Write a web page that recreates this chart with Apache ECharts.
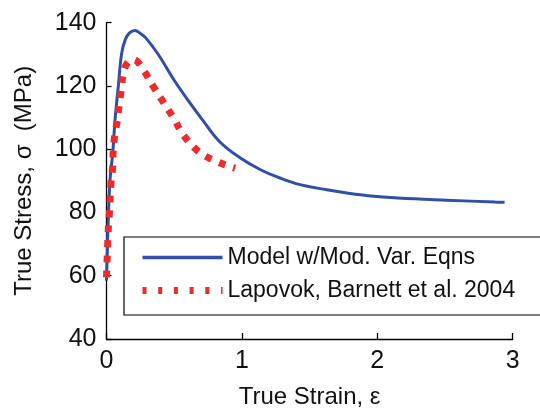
<!DOCTYPE html>
<html>
<head>
<meta charset="utf-8">
<script src="https://cdn.jsdelivr.net/npm/echarts@6/dist/echarts.min.js"></script>
<style>
  html, body { margin: 0; padding: 0; background: #fff; }
  #chart { width: 540px; height: 415px; }
</style>
</head>
<body>
<div id="chart"></div>
<script>
// model curve (true strain, true stress MPa)
const modelStrain = [0, 0.005, 0.013, 0.026, 0.046, 0.063, 0.087, 0.112, 0.14, 0.17, 0.21, 0.25, 0.29, 0.385, 0.5, 0.62, 0.71, 0.838, 0.986, 1.134, 1.281, 1.429, 1.626, 1.786, 1.934, 2.155, 2.51, 2.87, 2.94]
const modelStress = [58.5, 66, 77.6, 90.3, 98.8, 109.2, 119.8, 130.3, 134.8, 136.8, 137.5, 136.6, 135.2, 129.8, 121.8, 114.4, 109.2, 102.3, 97.3, 93.6, 90.9, 88.8, 87.2, 86.1, 85.3, 84.6, 83.9, 83.3, 83.2]

// Lapovok, Barnett et al. 2004
const expStrain = [0, 0.013, 0.021, 0.033, 0.046, 0.05, 0.063, 0.08, 0.095, 0.112, 0.124, 0.155, 0.2, 0.272, 0.346, 0.43, 0.5, 0.56, 0.641, 0.715, 0.814, 0.912, 0.95]
const expStress = [59.5, 74.5, 79.7, 89.2, 94.5, 99.8, 105.0, 109.2, 114.5, 119.8, 124.0, 127.3, 128.3, 125.0, 119.8, 114.2, 109.5, 105.0, 100.8, 98.2, 96.1, 94.5, 94.0]

const seriesNames = ['Model w/Mod. Var. Eqns', 'Lapovok, Barnett et al. 2004']
const xTicks = { min: 0, max: 3, step: 1 }
const yTicks = { min: 40, max: 140, step: 20 }

const font = 'Liberation Sans, Arial, sans-serif'
const blue = '#2f4fa8'
const red = '#ee2a2a'

const chart = echarts.init(document.getElementById('chart'), null, { renderer: 'canvas' })

const pairs = (xs, ys) => xs.map((x, i) => [x, ys[i]])

chart.setOption({
  animation: false,
  grid: {
    left: 106.5,
    right: 27.3,
    top: 22.7,
    bottom: 76
  },
  legend: {
    orient: 'vertical',
    left: 124,
    top: 237,
    padding: [9, 40, 13, 15],
    itemWidth: 80,
    itemHeight: 24,
    itemGap: 10,
    borderColor: '#000',
    borderWidth: 1.2,
    backgroundColor: '#fff',
    textStyle: {
      fontFamily: font,
      fontSize: 23,
      color: '#111'
    },
    data: [
      { name: seriesNames[0], itemStyle: { opacity: 0 }, lineStyle: { color: blue, width: 3.5, type: 'solid' } },
      { name: seriesNames[1], itemStyle: { opacity: 0 }, lineStyle: { color: red, width: 7, type: [4, 11.7], cap: 'butt' } }
    ]
  },
  xAxis: {
    type: 'value',
    min: xTicks.min,
    max: xTicks.max,
    interval: xTicks.step,
    name: 'True Strain, ε',
    nameLocation: 'middle',
    nameGap: 46,
    nameTextStyle: { fontFamily: font, fontSize: 24, color: '#111' },
    axisLine: { lineStyle: { color: '#000', width: 1.3 } },
    axisTick: { inside: true, length: 6, lineStyle: { color: '#000', width: 1.3 } },
    axisLabel: { fontFamily: font, fontSize: 25, color: '#111', margin: 10 },
    splitLine: { show: false }
  },
  yAxis: {
    type: 'value',
    min: yTicks.min,
    max: yTicks.max,
    interval: yTicks.step,
    name: 'True Stress, σ  (MPa)',
    nameLocation: 'middle',
    nameGap: 70,
    nameTextStyle: { fontFamily: font, fontSize: 24, color: '#111' },
    axisLine: { show: true, lineStyle: { color: '#000', width: 1.3 } },
    axisTick: { show: true, inside: true, length: 5, lineStyle: { color: '#000', width: 1.3 } },
    axisLabel: { fontFamily: font, fontSize: 25, color: '#111', margin: 10 },
    splitLine: { show: false }
  },
  series: [
    {
      name: seriesNames[0],
      type: 'line',
      symbol: 'none',
      smooth: 0.4,
      z: 2,
      lineStyle: { color: blue, width: 3 },
      itemStyle: { color: blue },
      data: pairs(modelStrain, modelStress)
    },
    {
      name: seriesNames[1],
      type: 'line',
      symbol: 'none',
      smooth: 0.4,
      z: 3,
      lineStyle: { color: red, width: 7, type: [7, 8], cap: 'butt' },
      itemStyle: { color: red },
      data: pairs(expStrain, expStress)
    }
  ]
})
</script>
</body>
</html>
